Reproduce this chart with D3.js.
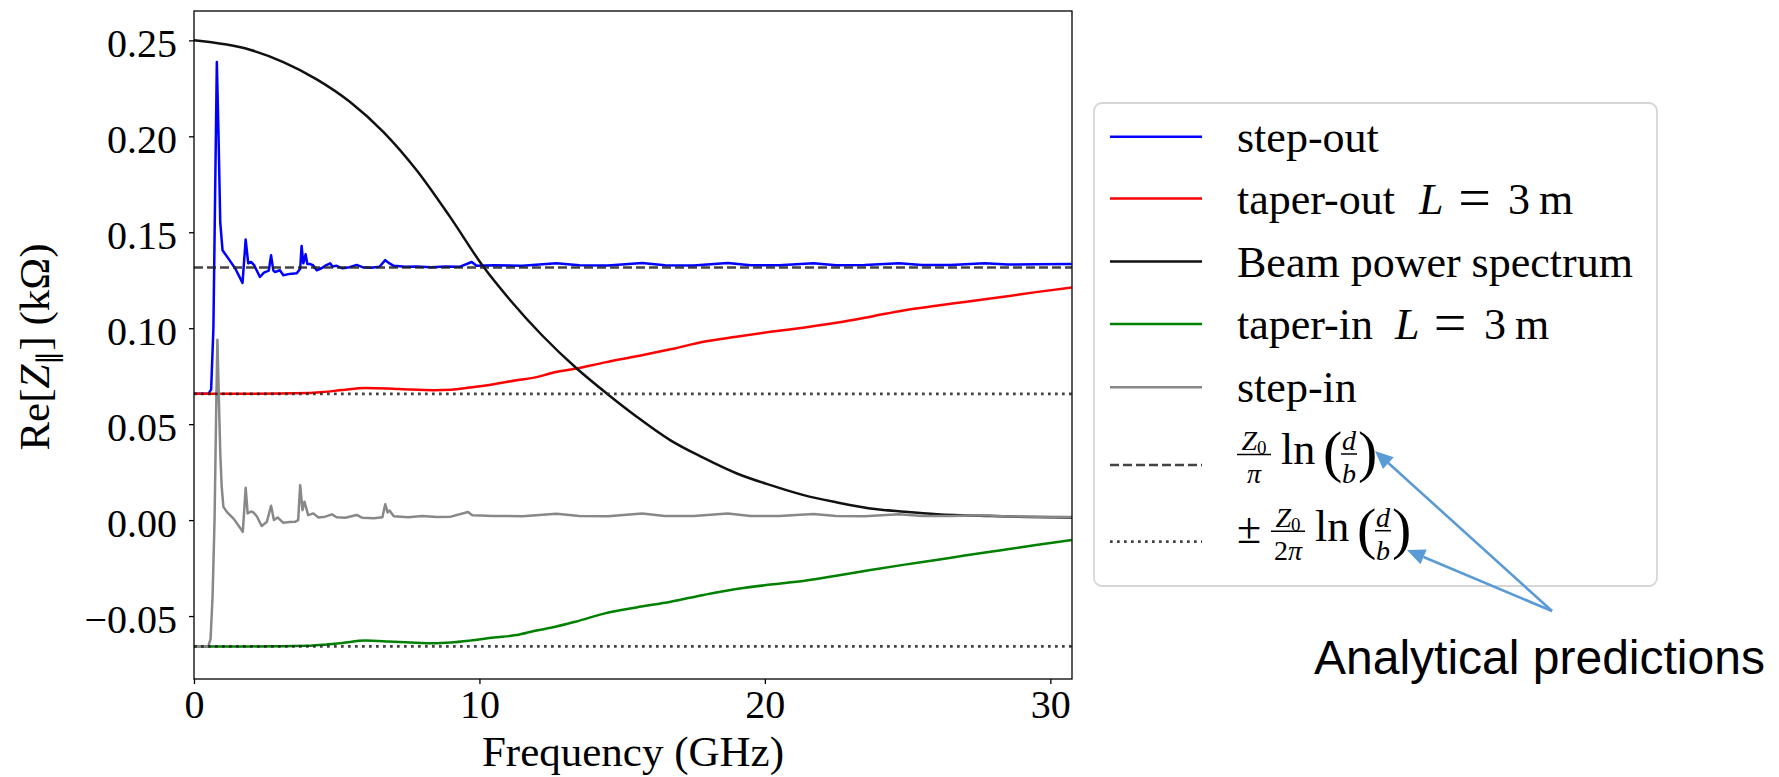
<!DOCTYPE html>
<html>
<head>
<meta charset="utf-8">
<script src="https://cdn.jsdelivr.net/npm/d3@7"></script>
<style>
  body { margin: 0; background: #ffffff; }
  svg { display: block; }
</style>
</head>
<body>
<svg id="chart" width="1779" height="777"></svg>
<script>
// ---------------- DATA ----------------
const xTicks = [0, 10, 20, 30];
const yTicks = [-0.05, 0.00, 0.05, 0.10, 0.15, 0.20, 0.25];
const xDomain = [0, 30.76];
const yDomain = [-0.0828, 0.2653];

// step-out (blue)
const stepOutFreq = [0, 0.5, 0.6, 0.68, 0.74, 0.80, 0.86, 0.92, 1.0, 1.2, 1.45, 1.7, 1.81, 1.9, 2.0, 2.1, 2.31, 2.45, 2.62, 2.70, 2.78, 2.84, 3.01, 3.13, 3.35, 3.6, 3.72, 3.77, 3.83, 3.91, 3.97, 4.05, 4.17, 4.3, 4.5, 4.62, 4.77, 4.85, 5.0, 5.2, 5.45, 5.7, 5.9, 6.2, 6.5, 6.7, 6.78, 6.85, 7.0, 7.4, 7.8, 8.3, 8.8, 9.3, 9.73, 9.9, 10.5, 11.5, 12.7, 13.5, 14.5, 15.7, 16.5, 17.5, 18.7, 19.5, 20.5, 21.7, 22.5, 23.5, 24.7, 25.5, 26.5, 27.7, 28.5, 29.5, 30.76];
const stepOutRe   = [0.0658, 0.0658, 0.068, 0.10, 0.17, 0.2387, 0.20, 0.155, 0.1406, 0.1364, 0.131, 0.1236, 0.1462, 0.1338, 0.1345, 0.133, 0.1267, 0.129, 0.130, 0.138, 0.130, 0.1293, 0.1302, 0.1276, 0.1283, 0.1286, 0.131, 0.1429, 0.1338, 0.1385, 0.1335, 0.1335, 0.1328, 0.1302, 0.1315, 0.1328, 0.1338, 0.1322, 0.1325, 0.1312, 0.1318, 0.133, 0.1318, 0.1315, 0.132, 0.1355, 0.1345, 0.1338, 0.1325, 0.132, 0.1322, 0.1318, 0.1322, 0.132, 0.1345, 0.1325, 0.1328, 0.1325, 0.1338, 0.1328, 0.1327, 0.1340, 0.1328, 0.1327, 0.1340, 0.1328, 0.1328, 0.1338, 0.1328, 0.1329, 0.1338, 0.1329, 0.1330, 0.1338, 0.1332, 0.1333, 0.1335];

// step-in (grey)
const stepInFreq = [0, 0.5, 0.58, 0.65, 0.72, 0.78, 0.82, 0.86, 0.92, 0.97, 1.03, 1.15, 1.4, 1.71, 1.81, 1.88, 2.0, 2.08, 2.2, 2.37, 2.55, 2.70, 2.80, 2.93, 3.13, 3.35, 3.54, 3.65, 3.72, 3.8, 3.87, 4.0, 4.18, 4.36, 4.6, 4.83, 5.0, 5.3, 5.7, 5.9, 6.3, 6.6, 6.7, 6.78, 6.85, 7.0, 7.5, 8.0, 8.5, 9.0, 9.6, 9.75, 10.5, 11.5, 12.7, 13.5, 14.5, 15.7, 16.5, 17.5, 18.7, 19.5, 20.5, 21.7, 22.5, 23.5, 24.7, 25.5, 26.5, 27.7, 28.5, 29.5, 30.76];
const stepInRe   = [-0.0658, -0.0658, -0.062, -0.04, 0.0, 0.06, 0.094, 0.07, 0.035, 0.0174, 0.0069, 0.0043, 0.0005, -0.0061, 0.0168, 0.0035, 0.0045, 0.004, 0.002, -0.0031, -0.001, 0.0075, 0.0, 0.0014, -0.0014, -0.0010, -0.0009, 0.0, 0.0182, 0.0052, 0.0096, 0.0026, 0.0035, 0.0014, 0.0018, 0.003, 0.0015, 0.0012, 0.0027, 0.0012, 0.0010, 0.0015, 0.0083, 0.004, 0.005, 0.002, 0.0015, 0.0022, 0.0016, 0.0018, 0.0042, 0.0025, 0.0022, 0.0020, 0.0033, 0.0022, 0.0020, 0.0034, 0.0022, 0.0021, 0.0034, 0.0022, 0.0021, 0.0032, 0.0022, 0.0020, 0.0030, 0.0021, 0.0021, 0.0025, 0.0019, 0.0017, 0.0016];

// taper-out / taper-in, L = 3 m (red / green)
const taperFreq  = [0, 2, 4, 4.5, 5.2, 6.0, 6.8, 7.6, 8.4, 9.0, 9.67, 10.5, 11.3, 12.0, 12.5, 13.4, 14.4, 15.5, 16.7, 17.85, 19.0, 20.2, 21.4, 22.5, 23.7, 24.9, 26.0, 27.0, 27.9, 28.5, 29.5, 30.76];
const taperOutRe = [0.0658, 0.0658, 0.0662, 0.0667, 0.0678, 0.0689, 0.0686, 0.068, 0.0677, 0.0679, 0.0691, 0.0708, 0.0729, 0.0745, 0.0765, 0.079, 0.0822, 0.0854, 0.089, 0.0929, 0.0955, 0.0981, 0.1004, 0.1028, 0.1060, 0.1094, 0.1117, 0.1137, 0.1155, 0.1167, 0.1188, 0.1212];
const taperInRe  = [-0.0658, -0.0658, -0.0655, -0.065, -0.064, -0.0628, -0.0632, -0.0638, -0.0642, -0.0638, -0.0628, -0.0612, -0.0599, -0.0575, -0.0561, -0.0528, -0.0486, -0.0455, -0.0425, -0.039, -0.0359, -0.0336, -0.0316, -0.029, -0.026, -0.0232, -0.0208, -0.0185, -0.0165, -0.0152, -0.013, -0.0104];

// beam power spectrum (black)
const beamFreq = [0, 1.96, 3.13, 4.3, 5.47, 6.64, 7.8, 8.97, 10.14, 11.08, 12.2, 13.41, 14.46, 15.5, 16.68, 17.8, 19.02, 20.2, 21.36, 22.5, 23.69, 24.9, 26.03, 27.9, 29.3, 30.76];
const beamRe   = [0.25, 0.2451, 0.2387, 0.2297, 0.2179, 0.2022, 0.1823, 0.158, 0.132, 0.1146, 0.0962, 0.079, 0.066, 0.054, 0.0417, 0.0328, 0.0243, 0.0182, 0.013, 0.0093, 0.0061, 0.0044, 0.0031, 0.0021, 0.0016, 0.0013];

// analytical predictions
const analyticalFull = 0.1316;   // Z0/pi ln(d/b)
const analyticalHalf = 0.0658;   // Z0/(2 pi) ln(d/b)

const legendLabels = ["step-out", "taper-out", "Beam power spectrum", "taper-in", "step-in"];
const legendColors = ["#0000ff", "#ff0000", "#111111", "#008000", "#888888"];
const annotationText = "Analytical predictions";

// ---------------- CHART ----------------
const svg = d3.select("#chart");
const serif = "'Liberation Serif', 'Times New Roman', serif";
const x = d3.scaleLinear().domain(xDomain).range([194, 1072]);
const y = d3.scaleLinear().domain(yDomain).range([679, 11]);

svg.append("defs").append("clipPath").attr("id", "clip")
  .append("rect")
  .attr("x", x(xDomain[0])).attr("y", y(yDomain[1]))
  .attr("width", x(xDomain[1]) - x(xDomain[0]))
  .attr("height", y(yDomain[0]) - y(yDomain[1]));

const plot = svg.append("g").attr("clip-path", "url(#clip)");
const line = d3.line().x(d => x(d[0])).y(d => y(d[1]));

const series = [
  { f: stepOutFreq, v: stepOutRe,  color: legendColors[0], curve: d3.curveLinear },
  { f: taperFreq,   v: taperOutRe, color: legendColors[1], curve: d3.curveMonotoneX },
  { f: beamFreq,    v: beamRe,     color: legendColors[2], curve: d3.curveMonotoneX },
  { f: taperFreq,   v: taperInRe,  color: legendColors[3], curve: d3.curveMonotoneX },
  { f: stepInFreq,  v: stepInRe,   color: legendColors[4], curve: d3.curveLinear }
];
series.forEach(s => {
  const pts = s.f.map((f, i) => [f, s.v[i]]);
  plot.append("path").datum(pts)
    .attr("d", line.curve(s.curve))
    .attr("fill", "none").attr("stroke", s.color)
    .attr("stroke-width", 2.5).attr("stroke-linejoin", "round");
});

// analytical lines
plot.append("path").datum([[xDomain[0], analyticalFull], [xDomain[1], analyticalFull]])
  .attr("d", line.curve(d3.curveLinear)).attr("fill", "none")
  .attr("stroke", "#222").attr("stroke-opacity", 0.85).attr("stroke-width", 2.5)
  .attr("stroke-dasharray", "9,4");
[analyticalHalf, -analyticalHalf].forEach(v => {
  plot.append("path").datum([[xDomain[0], v], [xDomain[1], v]])
    .attr("d", line.curve(d3.curveLinear)).attr("fill", "none")
    .attr("stroke", "#222").attr("stroke-opacity", 0.85).attr("stroke-width", 2.7)
    .attr("stroke-dasharray", "2.7,4.3");
});

// frame
svg.append("rect")
  .attr("x", x(xDomain[0])).attr("y", y(yDomain[1]))
  .attr("width", x(xDomain[1]) - x(xDomain[0]))
  .attr("height", y(yDomain[0]) - y(yDomain[1]))
  .attr("fill", "none").attr("stroke", "#000").attr("stroke-width", 1.3);

// axes
const xAxis = svg.append("g").attr("transform", `translate(0,${y(yDomain[0])})`)
  .call(d3.axisBottom(x).tickValues(xTicks).tickFormat(d3.format("d")).tickSize(5).tickSizeOuter(0).tickPadding(6));
const yAxis = svg.append("g").attr("transform", `translate(${x(xDomain[0])},0)`)
  .call(d3.axisLeft(y).tickValues(yTicks).tickFormat(d3.format(".2f")).tickSize(5).tickSizeOuter(0).tickPadding(12));
[xAxis, yAxis].forEach(a => {
  a.select(".domain").remove();
  a.selectAll(".tick line").attr("stroke", "#000").attr("stroke-width", 1.3);
  a.selectAll(".tick text").attr("font-family", serif).attr("font-size", 40).attr("fill", "#000");
});
yAxis.selectAll(".tick text").attr("dy", "0.4em");

// axis labels
svg.append("text").attr("x", 633).attr("y", 766)
  .attr("text-anchor", "middle").attr("font-family", serif).attr("font-size", 43)
  .text("Frequency (GHz)");

const yl = svg.append("text").attr("transform", "translate(49,347) rotate(-90)")
  .attr("text-anchor", "middle").attr("font-family", serif).attr("font-size", 43);
yl.append("tspan").text("Re[");
yl.append("tspan").attr("font-style", "italic").text("Z");
yl.append("tspan").attr("font-size", 28).attr("dy", 8).text("\u2225");
yl.append("tspan").attr("dy", -8).text("] (k\u03A9)");

// ---------------- LEGEND ----------------
const lg = svg.append("g");
lg.append("rect").attr("x", 1094).attr("y", 103).attr("width", 563).attr("height", 483)
  .attr("rx", 8).attr("fill", "#fff").attr("stroke", "#d6d6d6").attr("stroke-width", 1.8);

const rowY = [136.7, 198.5, 261.5, 324, 387.3, 465, 541.7];
const lx0 = 1110, lx1 = 1202, tx = 1237;
legendLabels.forEach((lab, i) => {
  lg.append("line").attr("x1", lx0).attr("x2", lx1).attr("y1", rowY[i]).attr("y2", rowY[i])
    .attr("stroke", legendColors[i]).attr("stroke-width", 2.6);
  const t = lg.append("text").attr("x", tx).attr("y", rowY[i] + 15)
    .attr("font-family", serif).attr("font-size", 44).attr("fill", "#000");
  t.append("tspan").text(lab);
  if (lab === "taper-out" || lab === "taper-in") {
    const xs = lab === "taper-out" ? [1419, 1474.5, 1508, 1539] : [1395, 1450, 1484, 1515];
    t.append("tspan").attr("x", xs[0]).attr("font-style", "italic").text("L");
    t.append("tspan").attr("x", xs[1]).attr("text-anchor", "middle").attr("font-size", 58).attr("dy", 3).text("=");
    t.append("tspan").attr("x", xs[2]).attr("font-size", 44).attr("dy", -3).text("3");
    t.append("tspan").attr("x", xs[3]).text("m");
  }
});
// dashed / dotted handles
lg.append("line").attr("x1", lx0).attr("x2", lx1).attr("y1", rowY[5]).attr("y2", rowY[5])
  .attr("stroke", "#222").attr("stroke-opacity", 0.85).attr("stroke-width", 2.5).attr("stroke-dasharray", "9,4");
lg.append("line").attr("x1", lx0).attr("x2", lx1).attr("y1", rowY[6]).attr("y2", rowY[6])
  .attr("stroke", "#222").attr("stroke-opacity", 0.85).attr("stroke-width", 2.7).attr("stroke-dasharray", "2.7,4.3");

function mathLabel(x0, ly, plusMinus) {
  const g = lg.append("g").attr("font-family", serif).attr("fill", "#000");
  let cx = x0;
  if (plusMinus) {
    g.append("text").attr("x", cx).attr("y", ly + 1.5).attr("font-size", 44).text("\u00B1");
    cx += 34;
  }
  const fw = 34;
  // numerator Z0
  const num = g.append("text").attr("x", cx + fw / 2).attr("y", ly - 15).attr("text-anchor", "middle").attr("font-size", 28);
  num.append("tspan").attr("font-style", "italic").text("Z");
  num.append("tspan").attr("font-size", 19).attr("dy", 4).text("0");
  g.append("line").attr("x1", cx).attr("x2", cx + fw).attr("y1", ly - 10.5).attr("y2", ly - 10.5)
    .attr("stroke", "#000").attr("stroke-width", 1.5);
  const den = g.append("text").attr("x", cx + fw / 2).attr("y", ly + 18).attr("text-anchor", "middle").attr("font-size", 28);
  if (plusMinus) den.append("tspan").text("2");
  den.append("tspan").attr("font-style", "italic").text("\u03C0");
  cx += fw + 10;
  g.append("text").attr("x", cx).attr("y", ly - 1).attr("font-size", 44).text("ln");
  cx += 42;
  g.append("text").attr("x", cx).attr("y", ly + 6).attr("font-size", 58).text("(");
  cx += 18;
  g.append("text").attr("x", cx + 8).attr("y", ly - 15).attr("text-anchor", "middle").attr("font-size", 28).attr("font-style", "italic").text("d");
  g.append("line").attr("x1", cx).attr("x2", cx + 16).attr("y1", ly - 11).attr("y2", ly - 11)
    .attr("stroke", "#000").attr("stroke-width", 1.5);
  g.append("text").attr("x", cx + 8).attr("y", ly + 18).attr("text-anchor", "middle").attr("font-size", 28).attr("font-style", "italic").text("b");
  cx += 17;
  g.append("text").attr("x", cx).attr("y", ly + 6).attr("font-size", 58).text(")");
}
mathLabel(1237, rowY[5], false);
mathLabel(1237, rowY[6], true);

// ---------------- ANNOTATION ----------------
const ann = svg.append("g");
const arrowColor = "#5b9bd5";
const tail = [1552, 611];
const tips = [[1375, 451], [1407, 550]];
tips.forEach(tp => {
  const dx = tp[0] - tail[0], dy = tp[1] - tail[1];
  const L = Math.hypot(dx, dy), ux = dx / L, uy = dy / L;
  const hl = 18, hw = 8;
  const bx = tp[0] - ux * hl, by = tp[1] - uy * hl;
  ann.append("line").attr("x1", tail[0]).attr("y1", tail[1]).attr("x2", bx).attr("y2", by)
    .attr("stroke", arrowColor).attr("stroke-width", 2.6);
  ann.append("path")
    .attr("d", `M${tp[0]},${tp[1]} L${bx - uy * hw},${by + ux * hw} L${bx + uy * hw},${by - ux * hw} Z`)
    .attr("fill", arrowColor);
});
ann.append("text").attr("x", 1314).attr("y", 674).attr("font-family", "'Liberation Sans', Arial, sans-serif")
  .attr("font-size", 48).attr("fill", "#000").text(annotationText);
</script>
</body>
</html>
